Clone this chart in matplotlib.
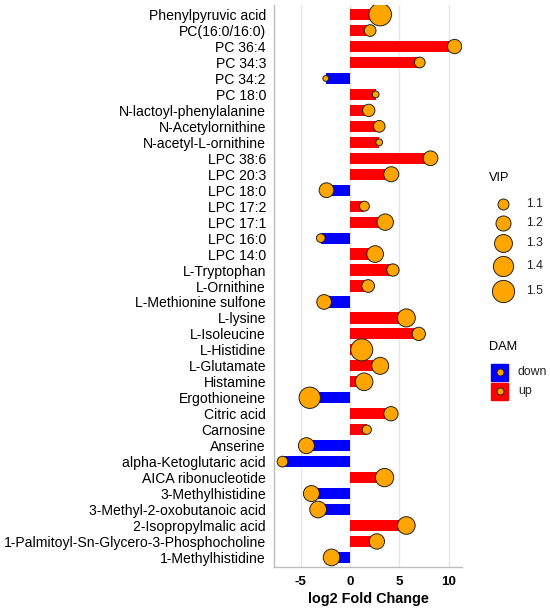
import numpy as np
import matplotlib
matplotlib.use("Agg")
import matplotlib.pyplot as plt

plt.rcParams['font.family'] = ['Liberation Sans', 'DejaVu Sans']

# Metabolites from top to bottom
metabolites = [
    "Phenylpyruvic acid", "PC(16:0/16:0)", "PC 36:4", "PC 34:3", "PC 34:2",
    "PC 18:0", "N-lactoyl-phenylalanine", "N-Acetylornithine",
    "N-acetyl-L-ornithine", "LPC 38:6", "LPC 20:3", "LPC 18:0", "LPC 17:2",
    "LPC 17:1", "LPC 16:0", "LPC 14:0", "L-Tryptophan", "L-Ornithine",
    "L-Methionine sulfone", "L-lysine", "L-Isoleucine", "L-Histidine",
    "L-Glutamate", "Histamine", "Ergothioneine", "Citric acid", "Carnosine",
    "Anserine", "alpha-Ketoglutaric acid", "AICA ribonucleotide",
    "3-Methylhistidine", "3-Methyl-2-oxobutanoic acid",
    "2-Isopropylmalic acid", "1-Palmitoyl-Sn-Glycero-3-Phosphocholine",
    "1-Methylhistidine",
]

log2fc = [
    3.06, 2.04, 10.6, 7.07, -2.45,
    2.6, 1.9, 2.96,
    2.96, 8.16, 4.18, -2.38, 1.46,
    3.57, -2.96, 2.55, 4.35, 1.84,
    -2.62, 5.71, 6.97, 1.19,
    3.06, 1.43, -4.08, 4.15, 1.7,
    -4.42, -6.84, 3.5,
    -3.91, -3.23,
    5.71, 2.72,
    -1.87,
]

vip = [
    1.52, 1.114, 1.178, 1.095, 1.046,
    1.05, 1.127, 1.114,
    1.05, 1.19, 1.2, 1.19, 1.083,
    1.245, 1.066, 1.255, 1.127, 1.136,
    1.19, 1.305, 1.151, 1.49,
    1.266, 1.29, 1.455, 1.178, 1.074,
    1.231, 1.095, 1.317,
    1.231, 1.255,
    1.29, 1.21,
    1.255,
]

vip_breaks = [1.1, 1.2, 1.3, 1.4, 1.5]
dam_labels = ["down", "up"]
dam_colors = {"down": "#0000FF", "up": "#FF0000"}
point_color = "#FFA500"

W, H, DPI = 550, 613, 100


def vip_to_s(v):
    """diameter in px (sqrt scale) -> marker area in points^2"""
    d = 5 + 25.5 * np.sqrt(np.maximum(np.asarray(v) - 1.045, 0))
    return (d * 72 / DPI) ** 2


fig = plt.figure(figsize=(W / DPI, H / DPI), dpi=DPI)
ax = fig.add_axes([274 / W, 1 - 567 / H, (462 - 274) / W, (567 - 5) / H])

n = len(metabolites)
ypos = np.arange(n)
fc = np.array(log2fc)
colors = [dam_colors["up"] if v > 0 else dam_colors["down"] for v in fc]

for xg in [-5, 0, 5, 10]:
    ax.axvline(xg, color="#E6E6E6", lw=1.0, zorder=0)

ax.barh(ypos, fc, height=0.7, color=colors, zorder=2)
ax.scatter(fc, ypos, s=vip_to_s(vip), c=point_color, edgecolors="#222222",
           linewidths=0.7, zorder=3)

ax.set_ylim(n - 0.4, -0.6)
ax.set_xlim(-7.7, 11.35)
ax.set_yticks(ypos)
ax.set_yticklabels(metabolites, fontsize=10.1, color="black")
ax.set_xticks([-5, 0, 5, 10])
ax.set_xticklabels(["-5", "0", "5", "10"], fontsize=9.6, fontweight="bold")
ax.tick_params(axis="y", length=0, pad=5.8)
ax.tick_params(axis="x", length=0, pad=6.5)
ax.set_xlabel("log2 Fold Change", fontsize=10.4, fontweight="bold", labelpad=3)

for side in ["top", "right"]:
    ax.spines[side].set_visible(False)
for side in ["left", "bottom"]:
    ax.spines[side].set_color("#BDBDBD")
    ax.spines[side].set_linewidth(1.0)

# legends drawn in pixel coordinates
lg = fig.add_axes([0, 0, 1, 1])
lg.set_xlim(0, W)
lg.set_ylim(H, 0)
lg.axis("off")

lg.text(489, 178, "VIP", fontsize=9.2, va="center", ha="left")
vip_y = [204, 223, 243, 266, 291]
for b, yy in zip(vip_breaks, vip_y):
    lg.scatter([503], [yy], s=vip_to_s(b), c=point_color,
               edgecolors="#222222", linewidths=0.7)
    lg.text(526, yy, f"{b:.1f}", fontsize=8.8, va="center", ha="left",
            color="#222222")

lg.text(489, 347, "DAM", fontsize=9.2, va="center", ha="left")
for lab, yy in zip(dam_labels, [372, 391]):
    lg.add_patch(plt.Rectangle((491, yy - 8.5), 17, 17,
                               color=dam_colors[lab]))
    lg.scatter([499.5], [yy], s=(7 * 72 / DPI) ** 2, c=point_color,
               edgecolors="#222222", linewidths=0.7)
    lg.text(518, yy, lab, fontsize=8.8, va="center", ha="left",
            color="#222222")

fig.savefig("out.png", dpi=DPI)
